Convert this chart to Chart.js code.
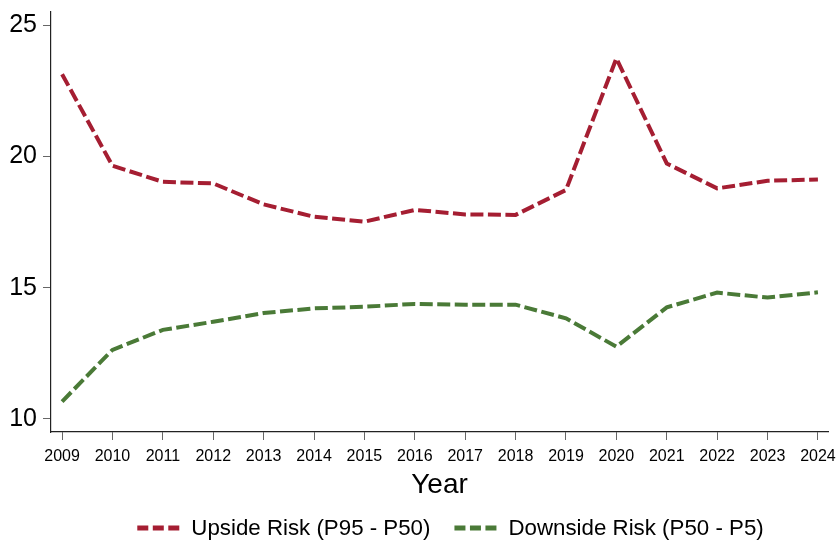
<!DOCTYPE html>
<html>
<head>
<meta charset="utf-8">
<script src="https://cdn.jsdelivr.net/npm/chart.js@4"></script>
<style>
  html, body { margin: 0; padding: 0; background: #fff; }
  #wrap { width: 836px; height: 541px; }
</style>
</head>
<body>
<div id="wrap"><canvas id="riskChart" width="836" height="541"></canvas></div>
<script>
const years = [2009, 2010, 2011, 2012, 2013, 2014, 2015, 2016, 2017, 2018, 2019, 2020, 2021, 2022, 2023, 2024];
const upsideRisk = [23.13, 19.64, 19.03, 18.97, 18.17, 17.70, 17.51, 17.96, 17.79, 17.77, 18.72, 23.73, 19.73, 18.78, 19.07, 19.12];
const downsideRisk = [10.66, 12.63, 13.39, 13.70, 14.03, 14.21, 14.27, 14.38, 14.35, 14.35, 13.83, 12.75, 14.25, 14.81, 14.62, 14.82];
const yTicks = [10, 15, 20, 25];
const seriesNames = ["Upside Risk (P95 - P50)", "Downside Risk (P50 - P5)"];

const red = "#A51E32";
const green = "#4A7A37";
const font = "'Liberation Sans', Arial, sans-serif";

function pts(vals) {
    return years.map((y, i) => ({ x: y, y: vals[i] }));
}

// legend drawn under the axis title, dashed sample + text
const dashLegend = {
    id: "dashLegend",
    afterDraw(chart) {
        const ctx = chart.ctx;
        const items = chart.data.datasets.map(d => ({ text: d.label, color: d.borderColor }));
        ctx.save();
        ctx.font = "22.3px " + font;
        const sample = 42, gapText = 12, gapItem = 24;
        let total = 0;
        items.forEach((it, i) => {
            it.w = ctx.measureText(it.text).width;
            total += sample + gapText + it.w + (i ? gapItem : 0);
        });
        let x = (chart.chartArea.left + chart.chartArea.right) / 2 + 11 - total / 2;
        const y = 528;
        items.forEach(it => {
            ctx.strokeStyle = it.color;
            ctx.lineWidth = 5;
            ctx.setLineDash([11, 4.5]);
            ctx.beginPath();
            ctx.moveTo(x, y);
            ctx.lineTo(x + sample, y);
            ctx.stroke();
            ctx.setLineDash([]);
            ctx.fillStyle = "#000";
            ctx.textBaseline = "middle";
            ctx.fillText(it.text, x + sample + gapText, y + 1);
            x += sample + gapText + it.w + gapItem;
        });
        ctx.restore();
    }
};

new Chart(document.getElementById("riskChart"), {
    type: "line",
    data: {
        datasets: [{
            label: seriesNames[0],
            data: pts(upsideRisk),
            borderColor: red,
            borderWidth: 4,
            borderDash: [13, 4.5],
            pointRadius: 0,
            fill: false,
            tension: 0
        }, {
            label: seriesNames[1],
            data: pts(downsideRisk),
            borderColor: green,
            borderWidth: 4,
            borderDash: [13, 4.5],
            pointRadius: 0,
            fill: false,
            tension: 0
        }]
    },
    options: {
        responsive: false,
        animation: false,
        layout: { padding: { top: 12, right: 8, bottom: 42, left: 0 } },
        plugins: {
            legend: { display: false },
            tooltip: { enabled: false }
        },
        scales: {
            x: {
                type: "linear",
                min: 2008.78,
                max: 2024.2,
                afterBuildTicks: s => { s.ticks = years.map(v => ({ value: v })); },
                afterFit: s => { s.height = 67; s.paddingLeft = 0; s.paddingRight = 0; },
                grid: { display: true, drawOnChartArea: false, drawTicks: true, tickLength: 8, color: "#666" },
                border: { display: true, color: "#222", width: 1.2 },
                ticks: {
                    color: "#000",
                    padding: 7,
                    maxRotation: 0,
                    autoSkip: false,
                    font: { family: font, size: 16 },
                    callback: v => String(v)
                },
                title: {
                    display: true,
                    text: "Year",
                    color: "#000",
                    font: { family: font, size: 28, lineHeight: 1 },
                    padding: 0
                }
            },
            y: {
                min: 9.5,
                max: 25.5,
                afterBuildTicks: s => { s.ticks = yTicks.map(v => ({ value: v })); },
                afterFit: s => { s.width = 51; s.paddingTop = 0; s.paddingBottom = 0; },
                grid: { display: true, drawOnChartArea: false, drawTicks: true, tickLength: 8, color: "#666" },
                border: { display: true, color: "#222", width: 1.2 },
                ticks: {
                    color: "#000",
                    padding: 6,
                    font: { family: font, size: 25 }
                }
            }
        }
    },
    plugins: [dashLegend]
});
</script>
</body>
</html>
